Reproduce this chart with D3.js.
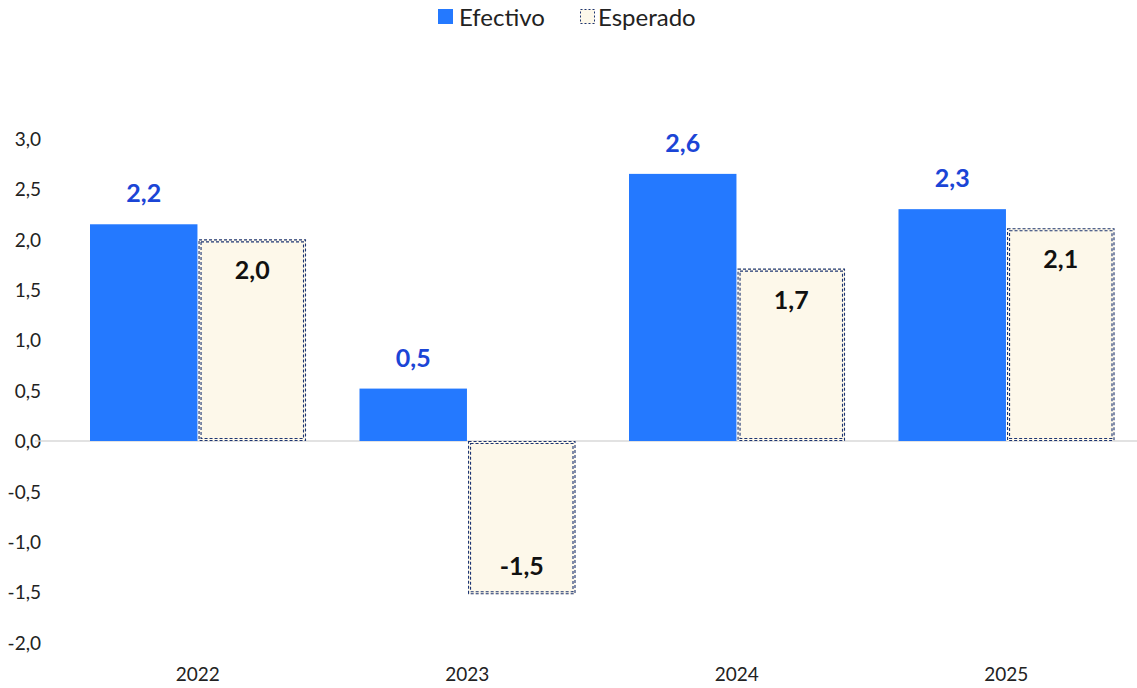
<!DOCTYPE html>
<html>
<head>
<meta charset="utf-8">
<script src="https://cdn.jsdelivr.net/npm/d3@7"></script>
<style>
  body { margin: 0; background: #fff; }
  svg text { font-family: Lato, "Open Sans", sans-serif; }
</style>
</head>
<body>
<div class="render"></div>
<script>
"use strict";

var years = ["2022", "2023", "2024", "2025"];
var efectivo = [2.15, 0.52, 2.65, 2.30];
var esperado = [2.0, -1.52, 1.71, 2.11];
var efectivoLabels = ["2,2", "0,5", "2,6", "2,3"];
var esperadoLabels = ["2,0", "-1,5", "1,7", "2,1"];
var yTicks = [3.0, 2.5, 2.0, 1.5, 1.0, 0.5, 0.0, -0.5, -1.0, -1.5, -2.0];

var w = 1137;
var h = 688;
var blue = "#2479FF";
var cream = "#FDF8EA";
var navy = "#1C3472";

var svg = d3.select(".render").append("svg").attr("width", w).attr("height", h);

var x = d3.scaleBand().domain(years).range([63, 1141]).paddingInner(0).paddingOuter(0);
var y = d3.scaleLinear().domain([-2, 3]).range([642.6, 138.6]);
var inner = d3.scaleBand().domain(["ef", "es"]).range([27, 243]).paddingInner(0.01).paddingOuter(0);

// y axis labels
var yAxis = d3.axisLeft(y).tickValues(yTicks).tickSize(0).tickPadding(0)
  .tickFormat(function (d) { return d3.format(".1f")(d).replace(".", ",").replace("−", "-"); });
var ga = svg.append("g").attr("transform", "translate(41,0)").call(yAxis);
ga.select(".domain").remove();
ga.selectAll("text").style("font-size", "19px").attr("fill", "#222").attr("text-anchor", "end").attr("dy", "0.35em");

// x axis labels
var xAxis = d3.axisBottom(x).tickSize(0).tickPadding(0);
var gx = svg.append("g").attr("transform", "translate(0,667)").call(xAxis);
gx.select(".domain").remove();
gx.selectAll("text").style("font-size", "19px").attr("fill", "#222").attr("dy", "0.71em");

// zero line
svg.append("line").attr("x1", 35).attr("x2", w).attr("y1", y(0)).attr("y2", y(0))
  .attr("stroke", "#d9d9d9").attr("stroke-width", 1.5);

// efectivo bars
svg.selectAll("rect.ef").data(efectivo).enter().append("rect").attr("class", "ef")
  .attr("x", function (d, i) { return x(years[i]) + inner("ef"); })
  .attr("y", function (d) { return y(Math.max(0, d)); })
  .attr("width", inner.bandwidth())
  .attr("height", function (d) { return Math.abs(y(d) - y(0)); })
  .attr("fill", blue);

// esperado bars: fill + double dashed border
function drawEsperado(sel, inset, dash) {
  sel.append("rect")
    .attr("x", function (d, i) { return x(years[i]) + inner("es") + inset; })
    .attr("y", function (d) { return y(Math.max(0, d)) + inset; })
    .attr("width", inner.bandwidth() - inset * 2)
    .attr("height", function (d) { return Math.abs(y(d) - y(0)) - inset * 2; })
    .attr("fill", "none").attr("stroke", navy).attr("stroke-width", 1.1)
    .attr("stroke-dasharray", dash);
}
var es = svg.selectAll("g.es").data(esperado).enter().append("g").attr("class", "es");
es.append("rect")
  .attr("x", function (d, i) { return x(years[i]) + inner("es"); })
  .attr("y", function (d) { return y(Math.max(0, d)); })
  .attr("width", inner.bandwidth())
  .attr("height", function (d) { return Math.abs(y(d) - y(0)); })
  .attr("fill", cream);
drawEsperado(es, 0.5, "3,2");
drawEsperado(es, 2.5, "3,2");

// labels
svg.selectAll("text.efl").data(efectivo).enter().append("text").attr("class", "efl")
  .text(function (d, i) { return efectivoLabels[i]; })
  .attr("x", function (d, i) { return x(years[i]) + inner("ef") + inner.bandwidth() / 2; })
  .attr("y", function (d) { return y(d) - 22; })
  .attr("text-anchor", "middle").style("font-size", "25px").style("font-weight", "bold")
  .attr("fill", "#1B45D6");

svg.selectAll("text.esl").data(esperado).enter().append("text").attr("class", "esl")
  .text(function (d, i) { return esperadoLabels[i]; })
  .attr("x", function (d, i) { return x(years[i]) + inner("es") + inner.bandwidth() / 2; })
  .attr("y", function (d) { return d >= 0 ? y(d) + 40 : y(d) - 19; })
  .attr("text-anchor", "middle").style("font-size", "25px").style("font-weight", "bold")
  .attr("fill", "#111");

// legend
var lg = svg.append("g");
lg.append("rect").attr("x", 438).attr("y", 9).attr("width", 15).attr("height", 15).attr("fill", blue);
lg.append("text").text("Efectivo").attr("x", 459).attr("y", 26).style("font-size", "24px").attr("fill", "#222");
lg.append("rect").attr("x", 580).attr("y", 9).attr("width", 15).attr("height", 15).attr("fill", cream);
lg.append("rect").attr("x", 580.5).attr("y", 9.5).attr("width", 14).attr("height", 14)
  .attr("fill", "none").attr("stroke", navy).attr("stroke-dasharray", "2,2");
lg.append("text").text("Esperado").attr("x", 598).attr("y", 26).style("font-size", "24px").attr("fill", "#222");
</script>
</body>
</html>
